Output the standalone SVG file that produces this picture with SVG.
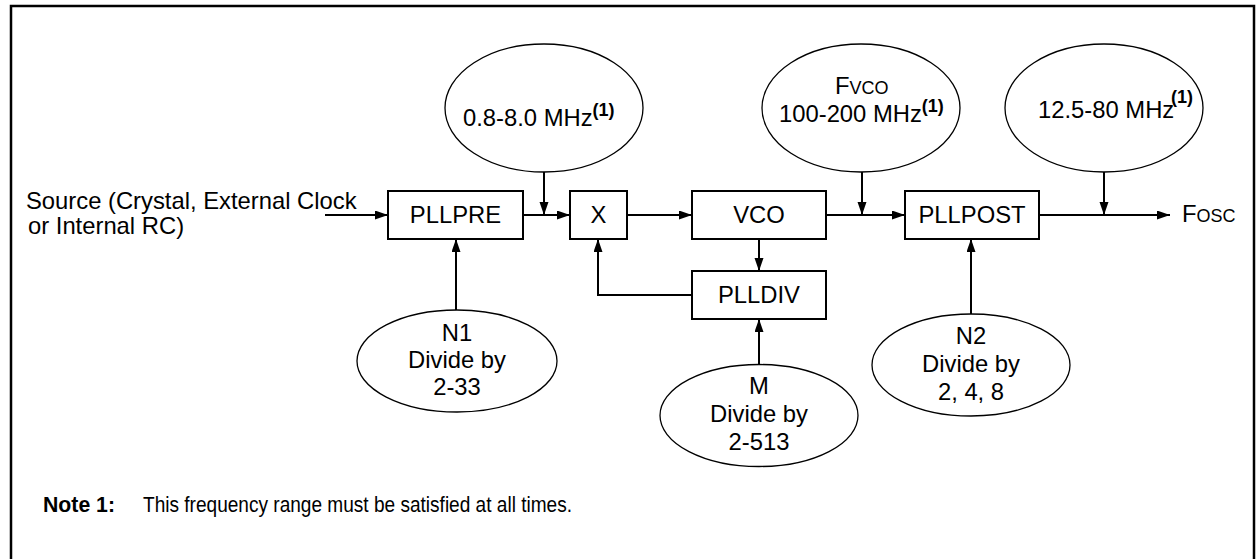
<svg xmlns="http://www.w3.org/2000/svg" width="1256" height="559" viewBox="0 0 1256 559">
<style>
text{font-family:"Liberation Sans",Arial,sans-serif;font-size:23.8px;fill:#000}
.box{fill:#fff;stroke:#000;stroke-width:2}
.ell{fill:#fff;stroke:#000;stroke-width:1.3}
.c{fill:none;stroke:#000;stroke-width:2}
.sup{font-size:18px;font-weight:bold}
.sc{font-size:18px}
.mid{text-anchor:middle}
.note{font-size:22px}
</style>
<defs>
<marker id="ah" markerUnits="userSpaceOnUse" markerWidth="14" markerHeight="10" refX="13" refY="4.5" orient="auto">
<path d="M0,0 L13,4.5 L0,9 Z" fill="#000"/>
</marker>
</defs>
<rect x="11" y="6" width="1243" height="560" fill="#fff" stroke="#000" stroke-width="2.5"/>

<g id="connectors">
<line class="c" x1="325" y1="215" x2="388" y2="215" marker-end="url(#ah)"/>
<line class="c" x1="523" y1="215" x2="570" y2="215" marker-end="url(#ah)"/>
<line class="c" x1="544" y1="172" x2="544" y2="215" marker-end="url(#ah)"/>
<line class="c" x1="627" y1="215" x2="692" y2="215" marker-end="url(#ah)"/>
<line class="c" x1="826" y1="215" x2="905" y2="215" marker-end="url(#ah)"/>
<line class="c" x1="862" y1="172" x2="862" y2="215" marker-end="url(#ah)"/>
<line class="c" x1="1039" y1="215" x2="1170" y2="215" marker-end="url(#ah)"/>
<line class="c" x1="1104" y1="172" x2="1104" y2="215" marker-end="url(#ah)"/>
<line class="c" x1="759" y1="239" x2="759" y2="271" marker-end="url(#ah)"/>
<polyline class="c" points="692,295 598,295 598,239" marker-end="url(#ah)"/>
<line class="c" x1="456" y1="310" x2="456" y2="239" marker-end="url(#ah)"/>
<line class="c" x1="759" y1="365" x2="759" y2="319" marker-end="url(#ah)"/>
<line class="c" x1="971" y1="314" x2="971" y2="239" marker-end="url(#ah)"/>
</g>

<g id="source">
<text x="26" y="209">Source (Crystal, External Clock<tspan x="28" y="234">or Internal RC)</tspan></text>
</g>

<g id="pllpre"><rect class="box" x="388" y="191" width="135" height="48"/><text class="mid" x="455.5" y="223">PLLPRE</text></g>
<g id="mult"><rect class="box" x="570" y="191" width="57" height="48"/><text class="mid" x="598.5" y="223">X</text></g>
<g id="vco"><rect class="box" x="692" y="191" width="134" height="48"/><text class="mid" x="759" y="223">VCO</text></g>
<g id="pllpost"><rect class="box" x="905" y="191" width="134" height="48"/><text class="mid" x="972" y="223">PLLPOST</text></g>
<g id="plldiv"><rect class="box" x="692" y="271" width="134" height="48"/><text class="mid" x="759" y="303">PLLDIV</text></g>

<g id="fosc"><text x="1182" y="222">F<tspan class="sc">OSC</tspan></text></g>

<g id="e-pre">
<ellipse class="ell" cx="544" cy="108" rx="99" ry="64"/>
<text x="463" y="126">0.8-8.0 MHz<tspan class="sup" dy="-10">(1)</tspan></text>
</g>
<g id="e-vco">
<ellipse class="ell" cx="861" cy="108" rx="99" ry="64"/>
<text x="835" y="94">F<tspan class="sc">VCO</tspan></text>
<text x="779" y="122">100-200 MHz<tspan class="sup" dy="-10">(1)</tspan></text>
</g>
<g id="e-out">
<ellipse class="ell" cx="1104" cy="108" rx="99" ry="64"/>
<text x="1038" y="118">12.5-80 MHz</text>
<text class="sup" x="1171" y="103">(1)</text>
</g>

<g id="n1">
<ellipse class="ell" cx="457" cy="361" rx="100" ry="51"/>
<text class="mid" x="457" y="341">N1</text>
<text class="mid" x="457" y="368">Divide by</text>
<text class="mid" x="457" y="395">2-33</text>
</g>
<g id="m">
<ellipse class="ell" cx="759" cy="415.5" rx="99" ry="51"/>
<text class="mid" x="759" y="394">M</text>
<text class="mid" x="759" y="422">Divide by</text>
<text class="mid" x="759" y="450">2-513</text>
</g>
<g id="n2">
<ellipse class="ell" cx="971" cy="365" rx="99" ry="51"/>
<text class="mid" x="971" y="344">N2</text>
<text class="mid" x="971" y="372">Divide by</text>
<text class="mid" x="971" y="400">2, 4, 8</text>
</g>

<g id="note">
<text class="note" x="43" y="512" font-weight="bold" textLength="72" lengthAdjust="spacingAndGlyphs">Note 1:</text>
<text class="note" x="143" y="512" textLength="429" lengthAdjust="spacingAndGlyphs">This frequency range must be satisfied at all times.</text>
</g>
</svg>
